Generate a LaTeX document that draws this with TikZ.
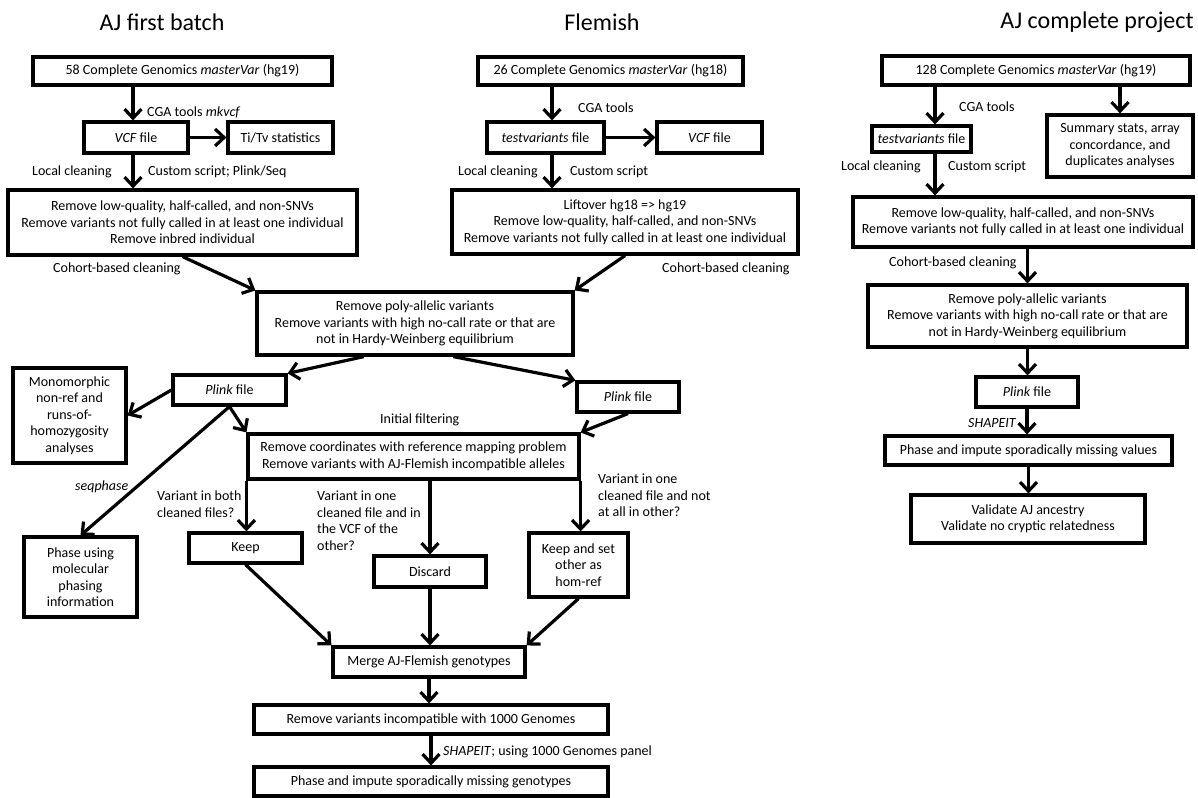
\documentclass[tikz,border=0pt]{standalone}
\usepackage{fontspec}
\setmainfont{Carlito}
\usetikzlibrary{arrows.meta,calc}
\begin{document}
\begin{tikzpicture}[x=1pt,y=-1pt,
  box/.style={draw, line width=3.2pt, inner sep=0pt, align=center, font=\fontsize{14}{16.5}\selectfont},
  lbl/.style={inner sep=0pt, font=\fontsize{14}{16.5}\selectfont, align=left},
  ttl/.style={inner sep=0pt, font=\fontsize{24}{28}\selectfont},
  arr/.style={line width=3.2pt, -{Straight Barb[length=9pt,width=17pt,line width=3.2pt]}},
]
\fill[white] (0,0) rectangle (1198,797);
\useasboundingbox (0,0) rectangle (1198,797);

% titles
\node[ttl] (t1) at (162,22) {AJ first batch};
\node[ttl] (t2) at (602,22) {Flemish};
\node[ttl] (t3) at (1097,22) {AJ complete project};

% AJ first batch
\node[box, minimum width=299pt, minimum height=28pt] (a1) at (182.5,71) {58 Complete Genomics \textit{masterVar} (hg19)};
\node[box, minimum width=104pt, minimum height=31pt] (avcf) at (136,137.5) {\textit{VCF} file};
\node[box, minimum width=105pt, minimum height=31pt] (atitv) at (280.5,137.5) {Ti/Tv statistics};
\node[box, minimum width=349pt, minimum height=65pt] (a2) at (182.5,222.5) {Remove low-quality, half-called, and non-SNVs\\Remove variants not fully called in at least one individual\\Remove inbred individual};

% Flemish
\node[box, minimum width=265pt, minimum height=28pt] (f1) at (610.5,71) {26 Complete Genomics \textit{masterVar} (hg18)};
\node[box, minimum width=117pt, minimum height=31pt] (ftv) at (545.5,137.5) {\textit{testvariants} file};
\node[box, minimum width=105pt, minimum height=31pt] (fvcf) at (709.5,137.5) {\textit{VCF} file};
\node[box, minimum width=346pt, minimum height=64pt] (f2) at (625,222) {Liftover hg18 => hg19\\Remove low-quality, half-called, and non-SNVs\\Remove variants not fully called in at least one individual};

% AJ complete project
\node[box, minimum width=308pt, minimum height=29pt] (r1) at (1036,70.5) {128 Complete Genomics \textit{masterVar} (hg19)};
\node[box, minimum width=99pt, minimum height=26pt] (rtv) at (921.5,139) {\textit{testvariants} file};
\node[box, minimum width=146pt, minimum height=62pt] (rsum) at (1120,146) {Summary stats, array\\concordance, and\\duplicates analyses};
\node[box, minimum width=340pt, minimum height=50pt] (r2) at (1023,222) {Remove low-quality, half-called, and non-SNVs\\Remove variants not fully called in at least one individual};
\node[box, minimum width=319pt, minimum height=62pt] (r3) at (1027.5,316) {Remove poly-allelic variants\\Remove variants with high no-call rate or that are\\not in Hardy-Weinberg equilibrium};
\node[box, minimum width=102pt, minimum height=30pt] (rplink) at (1027,392) {\textit{Plink} file};
\node[box, minimum width=287pt, minimum height=29pt] (rphase) at (1028.5,450.5) {Phase and impute sporadically missing values};
\node[box, minimum width=234pt, minimum height=48pt] (rval) at (1028,519) {Validate AJ ancestry\\Validate no cryptic relatedness};

% merged part
\node[box, minimum width=316pt, minimum height=63pt] (m1) at (415,323.5) {Remove poly-allelic variants\\Remove variants with high no-call rate or that are\\not in Hardy-Weinberg equilibrium};
\node[box, minimum width=113pt, minimum height=30pt] (plL) at (229.5,390) {\textit{Plink} file};
\node[box, minimum width=102pt, minimum height=30pt] (plR) at (628,397) {\textit{Plink} file};
\node[box, minimum width=113pt, minimum height=95pt] (mono) at (69.5,415.5) {Monomorphic\\non-ref and\\runs-of-\\homozygosity\\analyses};
\node[box, minimum width=113pt, minimum height=80pt] (phL) at (80.5,577) {Phase using\\molecular\\phasing\\information};
\node[box, minimum width=331pt, minimum height=45pt] (iff) at (413.5,456.5) {Remove coordinates with reference mapping problem\\Remove variants with AJ-Flemish incompatible alleles};
\node[box, minimum width=113pt, minimum height=30pt] (keep) at (245.5,548) {Keep};
\node[box, minimum width=112pt, minimum height=31pt] (disc) at (430,571.5) {Discard};
\node[box, minimum width=99pt, minimum height=64pt] (ks) at (578.5,565) {Keep and set\\other as\\hom-ref};
\node[box, minimum width=192pt, minimum height=30pt] (merge) at (429,662) {Merge AJ-Flemish genotypes};
\node[box, minimum width=354pt, minimum height=29pt] (rem) at (431,719.5) {Remove variants incompatible with 1000 Genomes};
\node[box, minimum width=354pt, minimum height=29pt] (phase) at (431,781.5) {Phase and impute sporadically missing genotypes};

% labels
\node[lbl, anchor=west] (l1) at (147,112) {CGA tools \textit{mkvcf}};
\node[lbl, anchor=west] (l2) at (32,172) {Local cleaning};
\node[lbl, anchor=west] (l3) at (148,172) {Custom script; Plink/Seq};
\node[lbl, anchor=west] (l4) at (53,269) {Cohort-based cleaning};
\node[lbl, anchor=west] (l5) at (578,108) {CGA tools};
\node[lbl, anchor=west] (l6) at (458,172) {Local cleaning};
\node[lbl, anchor=west] (l7) at (570,172) {Custom script};
\node[lbl, anchor=west] (l8) at (662,269) {Cohort-based cleaning};
\node[lbl, anchor=west] (l9) at (959,107) {CGA tools};
\node[lbl, anchor=west] (l10) at (841,167) {Local cleaning};
\node[lbl, anchor=west] (l11) at (948,167) {Custom script};
\node[lbl, anchor=west] (l12) at (889,263) {Cohort-based cleaning};
\node[lbl, anchor=west] (l13) at (968,423) {\textit{SHAPEIT}};
\node[lbl, anchor=west] (l14) at (380,420) {Initial filtering};
\node[lbl, anchor=west] (l15) at (75,487) {\textit{seqphase}};
\node[lbl, anchor=north west] (l16) at (157,491) {Variant in both\\cleaned files?};
\node[lbl, anchor=north west] (l17) at (317,491) {Variant in one\\cleaned file and in\\the VCF of the\\other?};
\node[lbl, anchor=north west] (l18) at (598,474) {Variant in one\\cleaned file and not\\at all in other?};
\node[lbl, anchor=west] (l19) at (443,752) {\textit{SHAPEIT}; using 1000 Genomes panel};

% helper coordinates for off-centre arrows
\coordinate (ax) at ($(avcf.center)+(-3,0)$);
\coordinate (fx) at ($(ftv.center)+(6.5,0)$);
\coordinate (rx) at ($(rtv.center)+(13.5,0)$);
\coordinate (m1a) at ($(m1.south west)!0.34!(m1.south east)$);
\coordinate (m1b) at ($(m1.south west)!0.62!(m1.south east)$);

% arrows: AJ first batch
\draw[arr] (ax |- a1.south) -- (ax |- avcf.north);
\draw[arr] (avcf.east) -- (atitv.west);
\draw[arr] (ax |- avcf.south) -- (ax |- a2.north);
\draw[arr] (a2.south) -- (m1.north west);
% Flemish
\draw[arr] (fx |- f1.south) -- (fx |- ftv.north);
\draw[arr] (ftv.east) -- (fvcf.west);
\draw[arr] (fx |- ftv.south) -- (fx |- f2.north);
\draw[arr] (f2.south) -- (m1.north east);
% merged
\draw[arr] (m1a) -- (plL.north east);
\draw[arr] (m1b) -- (plR.north west);
\draw[arr] (plL.west) -- (mono.east);
\draw[arr] (plL.south) -- (iff.north west);
\draw[arr] (plL.south) -- (phL.north);
\draw[arr] (plR.south) -- (iff.north east);
\draw[arr] (iff.south west) -- (iff.south west |- keep.north);
\draw[arr] (disc.north |- iff.south) -- (disc.north);
\draw[arr] (iff.south east) -- (iff.south east |- ks.north);
\draw[arr] (keep.south) -- (merge.north west);
\draw[arr] (disc.south) -- (disc.south |- merge.north);
\draw[arr] (ks.south) -- (merge.north east);
\draw[arr] (merge.south) -- (merge.south |- rem.north);
\draw[arr] (rem.south) -- (rem.south |- phase.north);
% AJ complete project
\draw[arr] (rx |- r1.south) -- (rx |- rtv.north);
\draw[arr] (rsum.north |- r1.south) -- (rsum.north);
\draw[arr] (rx |- rtv.south) -- (rx |- r2.north);
\draw[arr] (r3.north |- r2.south) -- (r3.north);
\draw[arr] (r3.south) -- (r3.south |- rplink.north);
\draw[arr] (rplink.south) -- (rplink.south |- rphase.north);
\draw[arr] (rphase.south) -- (rphase.south |- rval.north);
\end{tikzpicture}
\end{document}
